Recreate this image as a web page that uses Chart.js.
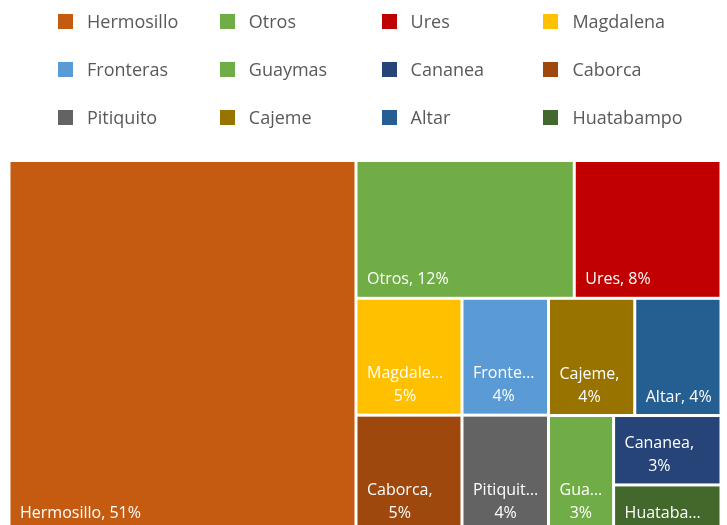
<!DOCTYPE html>
<html>
<head>
<meta charset="utf-8">
<script src="https://cdn.jsdelivr.net/npm/chart.js@4.4.0/dist/chart.umd.min.js"></script>
<style>
    html, body { margin: 0; padding: 0; overflow: hidden; background: #ffffff; }
    #wrap { position: relative; width: 727px; height: 525px; overflow: hidden; }
    #treemap { position: absolute; left: 0; top: 0; }
    #legend {
        position: absolute; left: 58px; top: -3px;
        display: grid; grid-template-columns: repeat(4, 161.8px); grid-auto-rows: 48px;
        font-family: "Open Sans", sans-serif; font-size: 18px; color: #595959;
    }
    .item { display: flex; align-items: center; white-space: nowrap; }
    .box { width: 15px; height: 15px; margin-right: 14px; flex: none; }
</style>
</head>
<body>
<div id="wrap">
    <canvas id="treemap" width="727" height="533"></canvas>
    <div id="legend"></div>
</div>
<script>
// Municipalities and their share (values shown as percent labels)
const cities = ['Hermosillo', 'Otros', 'Ures', 'Magdalena', 'Fronteras', 'Guaymas',
                'Cananea', 'Caborca', 'Pitiquito', 'Cajeme', 'Altar', 'Huatabampo'];
const shares = [51, 11.9, 8.0, 4.9, 4.0, 3.0, 2.95, 4.9, 4.0, 4.0, 4.0, 2.0];
const colors = ['#C55A11', '#70AD47', '#C00000', '#FFC000', '#5B9BD5', '#70AD47',
                '#264478', '#9E480E', '#636363', '#997300', '#255E91', '#43682B'];

// Build the legend from the same arrays
const legendDiv = document.getElementById('legend');
cities.forEach(function(name, i) {
    const item = document.createElement('div');
    item.className = 'item';
    const box = document.createElement('span');
    box.className = 'box';
    box.style.background = colors[i];
    item.appendChild(box);
    item.appendChild(document.createTextNode(name));
    legendDiv.appendChild(item);
});

// Squarified treemap layout (Bruls et al.) in a w x h rectangle
function worst(row, side) {
    let s = 0, mx = -Infinity, mn = Infinity;
    row.forEach(function(r) { s += r.area; mx = Math.max(mx, r.area); mn = Math.min(mn, r.area); });
    return Math.max(side * side * mx / (s * s), (s * s) / (side * side * mn));
}

function placeRow(row, rect, out) {
    let s = 0;
    row.forEach(function(r) { s += r.area; });
    if (rect.w >= rect.h) {
        // column on the left
        const cw = s / rect.h;
        let y = rect.y;
        row.forEach(function(r) {
            const hh = r.area / cw;
            out.push({ index: r.index, x: rect.x, y: y, w: cw, h: hh });
            y += hh;
        });
        return { x: rect.x + cw, y: rect.y, w: rect.w - cw, h: rect.h };
    }
    // row along the top
    const rh = s / rect.w;
    let x = rect.x;
    row.forEach(function(r) {
        const ww = r.area / rh;
        out.push({ index: r.index, x: x, y: rect.y, w: ww, h: rh });
        x += ww;
    });
    return { x: rect.x, y: rect.y + rh, w: rect.w, h: rect.h - rh };
}

function squarify(values, w, h) {
    const total = values.reduce(function(a, b) { return a + b; }, 0);
    const items = values.map(function(v, i) { return { index: i, area: v / total * w * h }; })
        .sort(function(a, b) { return b.area - a.area; });
    const out = [];
    let rect = { x: 0, y: 0, w: w, h: h };
    let row = [];
    let i = 0;
    while (i < items.length) {
        const side = Math.min(rect.w, rect.h);
        const next = row.concat([items[i]]);
        if (row.length === 0 || worst(next, side) <= worst(row, side)) {
            row = next;
            i++;
        } else {
            rect = placeRow(row, rect, out);
            row = [];
        }
    }
    if (row.length) placeRow(row, rect, out);
    return out;
}

// Plugin that draws the cells through the chart's x/y scales
const treemapPlugin = {
    id: 'treemapCells',
    beforeDatasetsDraw(chart) {
        const ctx = chart.ctx;
        const xs = chart.scales.x, ys = chart.scales.y;
        const area = chart.chartArea;
        const aspect = (area.right - area.left) / (area.bottom - area.top);
        const cells = squarify(shares, aspect, 1);
        const inset = 1.5;
        const lineH = 23;

        cells.forEach(function(c) {
            const left = xs.getPixelForValue(c.x / aspect) + inset;
            const right = xs.getPixelForValue((c.x + c.w) / aspect) - inset;
            const top = ys.getPixelForValue(c.y) + inset;
            const bottom = ys.getPixelForValue(c.y + c.h) - inset;
            const w = right - left, h = bottom - top;

            ctx.save();
            ctx.fillStyle = colors[c.index];
            ctx.fillRect(left, top, w, h);

            // label: "Name, 12%" on one line if it fits, otherwise wrapped
            ctx.beginPath();
            ctx.rect(left, top, w, h);
            ctx.clip();
            ctx.font = '16px "Open Sans"';
            ctx.fillStyle = '#ffffff';
            ctx.textBaseline = 'middle';
            const name = cities[c.index];
            const pct = Math.round(shares[c.index]) + '%';
            const full = name + ', ' + pct;
            const availOne = w - 16;
            const availName = w - 18;
            let lines;
            if (ctx.measureText(full).width <= availOne) {
                lines = [full];
            } else {
                let first = name + ',';
                if (ctx.measureText(first).width > availName) {
                    let n = name.length;
                    while (n > 1 && ctx.measureText(name.slice(0, n) + '\u2026').width > availName) n--;
                    first = name.slice(0, n) + '\u2026';
                }
                lines = [first, pct];
            }
            const maxLines = Math.max(1, Math.floor((h - 12) / lineH));
            lines = lines.slice(0, maxLines);

            const padX = 9.5;
            const lastY = bottom - 17;
            if (lines.length === 1) {
                ctx.textAlign = 'left';
                ctx.fillText(lines[0], left + padX, lastY);
            } else {
                const blockW = Math.max.apply(null, lines.map(function(t) { return ctx.measureText(t).width; }));
                ctx.textAlign = 'center';
                lines.forEach(function(t, k) {
                    ctx.fillText(t, left + padX + blockW / 2, lastY - (lines.length - 1 - k) * lineH);
                });
            }
            ctx.restore();
        });
    }
};

const chart = new Chart(document.getElementById('treemap').getContext('2d'), {
    type: 'scatter',
    data: { datasets: [{ data: [], pointRadius: 0 }] },
    options: {
        responsive: false,
        animation: false,
        layout: { padding: { left: 9, right: 6, top: 160.5, bottom: 1 } },
        scales: {
            x: { type: 'linear', min: 0, max: 1, display: false },
            y: { type: 'linear', min: 0, max: 1, reverse: true, display: false }
        },
        plugins: {
            legend: { display: false },
            tooltip: { enabled: false }
        }
    },
    plugins: [treemapPlugin]
});
</script>
</body>
</html>
